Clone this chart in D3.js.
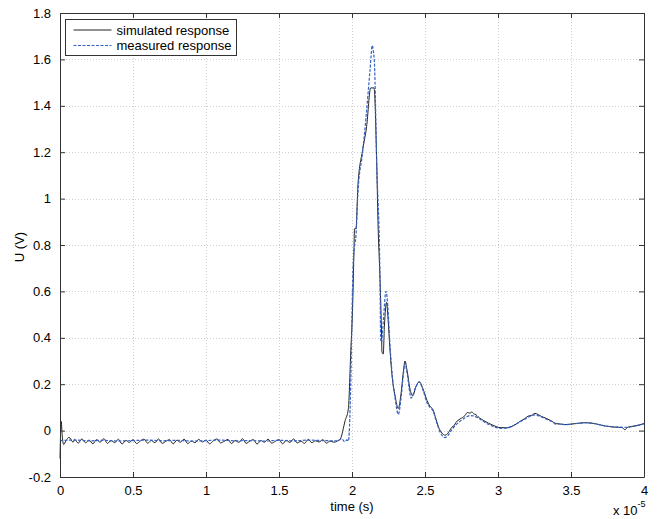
<!DOCTYPE html>
<html>
<head>
<meta charset="utf-8">
<script src="https://cdn.jsdelivr.net/npm/d3@7"></script>
<style>
  body { margin: 0; background: #fff; }
  text { font-family: "Liberation Sans", Arial, sans-serif; fill: #000; }
</style>
</head>
<body>
<div id="chart"></div>
<script>
// ---- data (time in units of 1e-5 s, voltage in V) ----
var xTicks = [0, 0.5, 1, 1.5, 2, 2.5, 3, 3.5, 4];
var xTickLabels = ["0", "0.5", "1", "1.5", "2", "2.5", "3", "3.5", "4"];
var yTicks = [-0.2, 0, 0.2, 0.4, 0.6, 0.8, 1, 1.2, 1.4, 1.6, 1.8];
var yTickLabels = ["-0.2", "0", "0.2", "0.4", "0.6", "0.8", "1", "1.2", "1.4", "1.6", "1.8"];
var seriesNames = ["simulated response", "measured response"];

var simulated = [
  [0, -0.12], [0.008, 0.04], [0.015, -0.02], [0.025, -0.06], [0.04, -0.045],
  [0.062, -0.029], [0.09, -0.05],
  [0.100, -0.038], [0.125, -0.054], [0.150, -0.036], [0.175, -0.052], [0.200, -0.041],
  [0.225, -0.057], [0.250, -0.039], [0.275, -0.050], [0.300, -0.035], [0.325, -0.055],
  [0.350, -0.043], [0.375, -0.052], [0.400, -0.037], [0.425, -0.058], [0.450, -0.042],
  [0.475, -0.051], [0.500, -0.039], [0.525, -0.056], [0.550, -0.045], [0.575, -0.037],
  [0.600, -0.054], [0.625, -0.043], [0.650, -0.052], [0.675, -0.036], [0.700, -0.055],
  [0.725, -0.046], [0.750, -0.039], [0.775, -0.057], [0.800, -0.042], [0.825, -0.050],
  [0.850, -0.037], [0.875, -0.056], [0.900, -0.045], [0.925, -0.052], [0.950, -0.038],
  [0.975, -0.049], [1.000, -0.041], [1.025, -0.057], [1.050, -0.044], [1.075, -0.036],
  [1.100, -0.053], [1.125, -0.046], [1.150, -0.038], [1.175, -0.056], [1.200, -0.042],
  [1.225, -0.051], [1.250, -0.035], [1.275, -0.055], [1.300, -0.045], [1.325, -0.039],
  [1.350, -0.058], [1.375, -0.043], [1.400, -0.050], [1.425, -0.037], [1.450, -0.054],
  [1.475, -0.046], [1.500, -0.039], [1.525, -0.057], [1.550, -0.042], [1.575, -0.051],
  [1.600, -0.036], [1.625, -0.053], [1.650, -0.046], [1.675, -0.055], [1.700, -0.038],
  [1.725, -0.052], [1.750, -0.044], [1.775, -0.049], [1.800, -0.039], [1.825, -0.054],
  [1.850, -0.045], [1.875, -0.050], [1.900, -0.045],
  [1.92, -0.036], [1.953, 0.043], [1.975, 0.094], [1.991, 0.33], [2.005, 0.55],
  [2.014, 0.79], [2.017, 0.87], [2.027, 0.87], [2.041, 1.06], [2.073, 1.21],
  [2.10, 1.31], [2.128, 1.477], [2.151, 1.477], [2.169, 1.16], [2.178, 0.9],
  [2.192, 0.65], [2.203, 0.40], [2.205, 0.34], [2.214, 0.33], [2.222, 0.45],
  [2.237, 0.553], [2.247, 0.48], [2.26, 0.35], [2.274, 0.24], [2.295, 0.15],
  [2.317, 0.095], [2.336, 0.16], [2.353, 0.26], [2.363, 0.30], [2.377, 0.26],
  [2.397, 0.18], [2.416, 0.15], [2.438, 0.19], [2.461, 0.21], [2.486, 0.18],
  [2.514, 0.13], [2.534, 0.105], [2.555, 0.09], [2.575, 0.05], [2.596, 0.01],
  [2.616, -0.01], [2.637, -0.02], [2.658, -0.01], [2.685, 0.015], [2.70, 0.022],
  [2.712, 0.035], [2.74, 0.05], [2.774, 0.065], [2.79, 0.078], [2.808, 0.075],
  [2.82, 0.08], [2.836, 0.072], [2.85, 0.068], [2.863, 0.06], [2.911, 0.04],
  [2.959, 0.025], [3.014, 0.013], [3.062, 0.012], [3.116, 0.025], [3.164, 0.045],
  [3.18, 0.05], [3.205, 0.062], [3.23, 0.066], [3.253, 0.074], [3.301, 0.06],
  [3.356, 0.045], [3.38, 0.035], [3.39, 0.028], [3.404, 0.03], [3.459, 0.026],
  [3.527, 0.03], [3.596, 0.034], [3.664, 0.03], [3.733, 0.02], [3.801, 0.015],
  [3.849, 0.013], [3.870, 0.004], [3.89, 0.015], [3.938, 0.02], [4.0, 0.03]
];

var measured = [
  [0, -0.043], [0.1, -0.041], [0.2, -0.044], [0.3, -0.042], [0.4, -0.045],
  [0.5, -0.043], [0.6, -0.041], [0.7, -0.044], [0.8, -0.042], [0.9, -0.045],
  [1.0, -0.043], [1.1, -0.041], [1.2, -0.044], [1.3, -0.043], [1.4, -0.045],
  [1.5, -0.042], [1.6, -0.044], [1.7, -0.041], [1.8, -0.043], [1.9, -0.044],
  [1.93, -0.035], [1.95, -0.048], [1.965, -0.040], [1.975, -0.045],
  [1.991, 0.19], [2.0, 0.5], [2.007, 0.70], [2.017, 0.79], [2.027, 0.84],
  [2.041, 1.03], [2.071, 1.19], [2.096, 1.35], [2.123, 1.55], [2.139, 1.66],
  [2.147, 1.63], [2.154, 1.58], [2.169, 1.16], [2.192, 0.65], [2.196, 0.40],
  [2.202, 0.38], [2.212, 0.45], [2.233, 0.60], [2.247, 0.52], [2.26, 0.37],
  [2.274, 0.25], [2.295, 0.14], [2.317, 0.07], [2.336, 0.14], [2.353, 0.25],
  [2.363, 0.29], [2.377, 0.25], [2.397, 0.16], [2.404, 0.14], [2.432, 0.18],
  [2.461, 0.21], [2.486, 0.175], [2.514, 0.12], [2.534, 0.10], [2.555, 0.085],
  [2.575, 0.045], [2.596, 0.005], [2.616, -0.02], [2.637, -0.03], [2.658, -0.02],
  [2.685, 0.005], [2.712, 0.025], [2.74, 0.04], [2.774, 0.055], [2.808, 0.065],
  [2.836, 0.063], [2.863, 0.055], [2.911, 0.035], [2.959, 0.02], [3.014, 0.01],
  [3.062, 0.012], [3.116, 0.025], [3.164, 0.042], [3.205, 0.057], [3.253, 0.068],
  [3.301, 0.058], [3.356, 0.043], [3.404, 0.03], [3.459, 0.026], [3.527, 0.03],
  [3.596, 0.034], [3.664, 0.03], [3.733, 0.02], [3.801, 0.016], [3.870, 0.014],
  [3.938, 0.02], [4.0, 0.03]
];

// ---- layout ----
var svgWidth = 662;
var svgHeight = 519;
var margin = { top: 13, right: 18, bottom: 42, left: 60 };
var width = svgWidth - margin.left - margin.right;
var height = svgHeight - margin.top - margin.bottom;

var svg = d3.select("#chart")
  .append("svg")
  .attr("width", svgWidth)
  .attr("height", svgHeight);

var chartGroup = svg.append("g")
  .attr("transform", `translate(${margin.left}, ${margin.top})`);

var xScale = d3.scaleLinear().domain([0, 4]).range([0, width]);
var yScale = d3.scaleLinear().domain([-0.2, 1.8]).range([height, 0]);

// dotted grid
chartGroup.append("g")
  .selectAll("line.vgrid")
  .data(xTicks.slice(1, -1))
  .enter()
  .append("line")
  .attr("x1", d => Math.round(xScale(d)) + 0.5)
  .attr("x2", d => Math.round(xScale(d)) + 0.5)
  .attr("y1", 0)
  .attr("y2", height)
  .attr("stroke", "#cfcfcf")
  .attr("stroke-dasharray", "1,2");

chartGroup.append("g")
  .selectAll("line.hgrid")
  .data(yTicks.slice(1, -1))
  .enter()
  .append("line")
  .attr("x1", 0)
  .attr("x2", width)
  .attr("y1", d => Math.round(yScale(d)) + 0.5)
  .attr("y2", d => Math.round(yScale(d)) + 0.5)
  .attr("stroke", "#cfcfcf")
  .attr("stroke-dasharray", "1,2");

// lines
var line = d3.line()
  .curve(d3.curveMonotoneX)
  .x(d => xScale(d[0]))
  .y(d => yScale(d[1]));

chartGroup.append("path")
  .datum(simulated)
  .attr("fill", "none")
  .attr("stroke", "#222")
  .attr("stroke-width", 1)
  .attr("d", line);

chartGroup.append("path")
  .datum(measured)
  .attr("fill", "none")
  .attr("stroke", "#3361c6")
  .attr("stroke-width", 1.2)
  .attr("stroke-dasharray", "3,1.5")
  .attr("d", line);

// axes (MATLAB style, ticks inward on all sides)
function styleAxis(g) {
  g.select(".domain").attr("stroke", "#333");
  g.selectAll(".tick line").attr("stroke", "#333");
  g.selectAll("text")
    .style("font-size", "13px")
    .style("font-family", "Liberation Sans, Arial, sans-serif")
    .attr("fill", "#000");
}

var bottomAxis = d3.axisBottom(xScale)
  .tickValues(xTicks)
  .tickSizeInner(-5)
  .tickSizeOuter(0)
  .tickPadding(9)
  .tickFormat((d, i) => xTickLabels[i]);

chartGroup.append("g")
  .attr("transform", `translate(0, ${height})`)
  .call(bottomAxis)
  .call(styleAxis);

var leftAxis = d3.axisLeft(yScale)
  .tickValues(yTicks)
  .tickSizeInner(-5)
  .tickSizeOuter(0)
  .tickPadding(9)
  .tickFormat((d, i) => yTickLabels[i]);

chartGroup.append("g")
  .call(leftAxis)
  .call(styleAxis);

chartGroup.append("g")
  .call(d3.axisTop(xScale).tickValues(xTicks).tickSizeInner(-5).tickSizeOuter(0).tickFormat(""))
  .call(styleAxis);

chartGroup.append("g")
  .attr("transform", `translate(${width}, 0)`)
  .call(d3.axisRight(yScale).tickValues(yTicks).tickSizeInner(-5).tickSizeOuter(0).tickFormat(""))
  .call(styleAxis);

// axis labels
svg.append("text")
  .attr("x", margin.left + width / 2)
  .attr("y", 511)
  .attr("text-anchor", "middle")
  .style("font-size", "13px")
  .text("time (s)");

svg.append("text")
  .attr("transform", `translate(24, ${margin.top + height / 2 + 2}) rotate(-90)`)
  .attr("text-anchor", "middle")
  .style("font-size", "13px")
  .text("U (V)");

var expLabel = svg.append("text")
  .attr("x", 613)
  .attr("y", 515)
  .style("font-size", "13px");
expLabel.append("tspan").text("x 10");
expLabel.append("tspan")
  .attr("dy", -8)
  .style("font-size", "9px")
  .text("-5");

// legend
var legend = svg.append("g").attr("transform", "translate(65.5, 19.5)");
legend.append("rect")
  .attr("width", 171)
  .attr("height", 36)
  .attr("fill", "#fff")
  .attr("stroke", "#333");

var legendStyles = [
  { stroke: "#222", dash: null, width: 1 },
  { stroke: "#3361c6", dash: "3,1.5", width: 1.2 }
];

seriesNames.forEach(function(name, i) {
  var yy = 10.5 + i * 15.5;
  legend.append("line")
    .attr("x1", 8)
    .attr("x2", 46)
    .attr("y1", yy)
    .attr("y2", yy)
    .attr("stroke", legendStyles[i].stroke)
    .attr("stroke-width", legendStyles[i].width)
    .attr("stroke-dasharray", legendStyles[i].dash);
  legend.append("text")
    .attr("x", 51)
    .attr("y", yy + 4.5)
    .style("font-size", "13px")
    .text(name);
});
</script>
</body>
</html>
